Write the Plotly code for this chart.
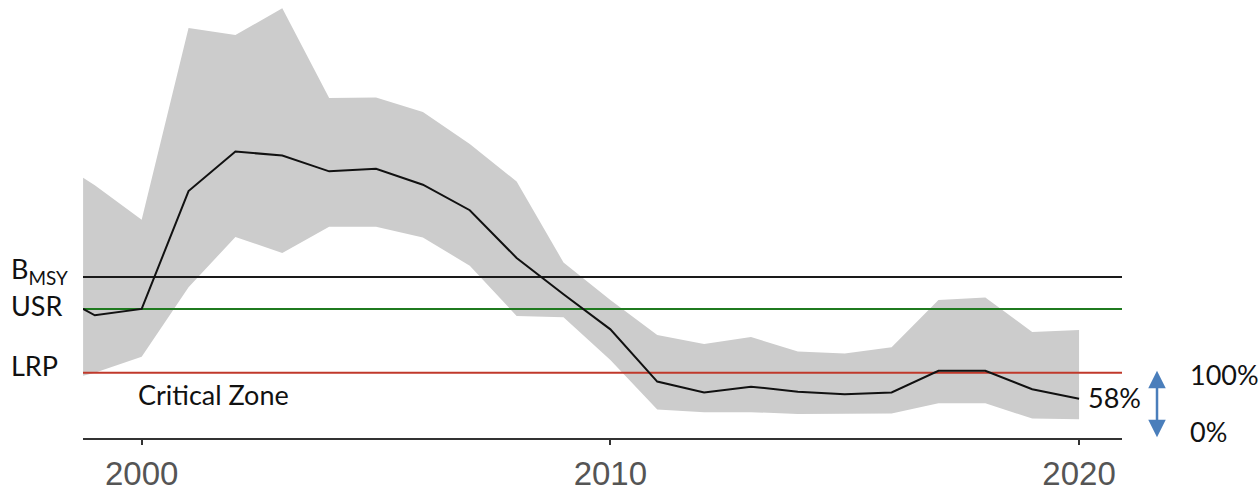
import plotly.graph_objects as go

years = [1998.75, 1999, 2000, 2001, 2002, 2003, 2004, 2005, 2006, 2007, 2008, 2009,
         2010, 2011, 2012, 2013, 2014, 2015, 2016, 2017, 2018, 2019, 2020]
# biomass relative to LRP (LRP = 1.0)
median = [2.00, 1.90, 2.00, 3.85, 4.47, 4.41, 4.16, 4.20, 3.95, 3.55, 2.80, 2.23,
          1.68, 0.86, 0.69, 0.78, 0.70, 0.66, 0.69, 1.03, 1.03, 0.74, 0.59]
upper = [4.06, 3.94, 3.40, 6.41, 6.30, 6.72, 5.31, 5.32, 5.09, 4.59, 4.00, 2.73,
         2.14, 1.59, 1.45, 1.56, 1.33, 1.30, 1.40, 2.14, 2.18, 1.64, 1.67]
lower = [0.95, 1.00, 1.25, 2.34, 3.13, 2.88, 3.29, 3.29, 3.12, 2.68, 1.89, 1.87,
         1.20, 0.42, 0.38, 0.38, 0.35, 0.35, 0.36, 0.52, 0.52, 0.28, 0.27]

ref_names = ["BMSY", "USR", "LRP"]
ref_values = [2.5, 2.0, 1.0]
ref_colors = ["#1a1a1a", "#1f7a1f", "#c0392b"]
ref_labels = ["B<sub>MSY</sub>", "USR", "LRP"]
tick_years = [2000, 2010, 2020]
end_label = "58%"

X0, X1 = 1998.748, 2020.916

fig = go.Figure()
fig.add_trace(go.Scatter(x=years, y=upper, mode="lines", line=dict(width=0),
                         hoverinfo="skip", showlegend=False))
fig.add_trace(go.Scatter(x=years, y=lower, mode="lines", line=dict(width=0),
                         fill="tonexty", fillcolor="#cccccc",
                         hoverinfo="skip", showlegend=False))
for name, v, c in zip(ref_names, ref_values, ref_colors):
    fig.add_trace(go.Scatter(x=[X0, X1], y=[v, v], mode="lines",
                             line=dict(color=c, width=2), name=name,
                             showlegend=False, hoverinfo="skip"))
fig.add_trace(go.Scatter(x=years, y=median, mode="lines",
                         line=dict(color="#111111", width=2), showlegend=False))

lab_font = dict(family="Lato, Noto Sans, sans-serif", size=27, color="#111111")
ann = []
shifts = [7, 3, 7]
for lab, v, s in zip(ref_labels, ref_values, shifts):
    ann.append(dict(xref="paper", yref="y", x=-0.071, y=v, text=lab, showarrow=False,
                    xanchor="left", yanchor="middle", yshift=s, font=lab_font))
ann.append(dict(xref="x", yref="y", x=1999.88, y=0.65, text="Critical Zone",
                showarrow=False, xanchor="left", yanchor="middle", font=lab_font))
ann.append(dict(xref="x", yref="y", x=2020.15, y=0.61, text=end_label,
                showarrow=False, xanchor="left", yanchor="middle", font=lab_font))
ann.append(dict(xref="paper", yref="y", x=1.0635, y=0.97, text="100%",
                showarrow=False, xanchor="left", yanchor="middle", font=lab_font))
ann.append(dict(xref="paper", yref="y", x=1.0635, y=0.08, text="0%",
                showarrow=False, xanchor="left", yanchor="middle", font=lab_font))
ann.append(dict(xref="paper", yref="y", x=1.0337, y=-0.015, axref="pixel", ayref="pixel",
                ax=0, ay=-68, text="", showarrow=True, arrowhead=2,
                arrowside="end+start", arrowsize=1.4, arrowwidth=2.5,
                arrowcolor="#4a7ebb"))

fig.update_layout(
    width=1260, height=492,
    margin=dict(l=83, r=138, t=0, b=50),
    paper_bgcolor="white", plot_bgcolor="white",
    annotations=ann,
    xaxis=dict(range=[X0, X1], tickvals=tick_years,
               ticktext=[str(t) for t in tick_years],
               showgrid=False, zeroline=False, showline=True,
               linecolor="#333333", linewidth=2, ticks="outside", ticklen=5,
               tickwidth=1.5, tickcolor="#333333",
               tickfont=dict(family="Liberation Sans, Arial, sans-serif", size=33,
                             color="#555555")),
    yaxis=dict(range=[-0.026, 6.85], visible=False, showgrid=False, zeroline=False),
)
fig.write_html("out.html", config={"displayModeBar": False},
               post_script="document.body.style.margin='0';"
                           "document.body.style.overflow='hidden';")
